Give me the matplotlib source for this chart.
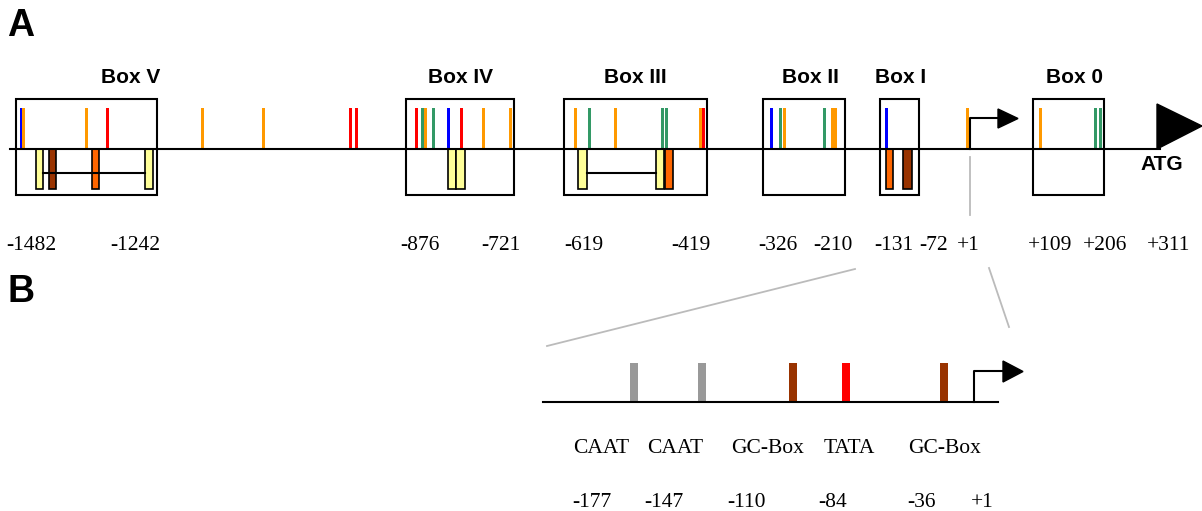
import matplotlib
matplotlib.use("Agg")
import matplotlib.pyplot as plt
from matplotlib.patches import Rectangle, Polygon

# ---------------- data (layout units = diagram coordinates) ----------------
box_names = ['Box V', 'Box IV', 'Box III', 'Box II', 'Box I', 'Box 0']
box_left = [16, 406, 564, 763, 880, 1033]
box_right = [157, 514, 707, 845, 919, 1104]
box_label_x = [131, 460, 635, 810, 901, 1075]

site_x = [21, 23.5, 86, 107, 202, 263, 350, 356,
          416, 422, 425, 433, 448, 461, 483, 510,
          575, 589, 615, 662, 666, 700, 703.5,
          771, 780, 784, 824, 832, 835,
          886, 967, 1040, 1095, 1100]
site_type = ['blue', 'orange', 'orange', 'red', 'orange', 'orange', 'red', 'red',
             'red', 'green', 'orange', 'green', 'blue', 'red', 'orange', 'orange',
             'orange', 'green', 'orange', 'green', 'green', 'orange', 'red',
             'blue', 'green', 'orange', 'green', 'orange', 'orange',
             'blue', 'orange', 'orange', 'green', 'green']

lower_x0 = [36, 49, 92, 145, 448, 456, 578, 656, 665, 886, 903]
lower_x1 = [43, 56, 99, 153, 456, 465, 587, 664, 673, 893, 912]
lower_type = ['yellow', 'brown', 'dorange', 'yellow', 'yellow', 'yellow',
              'yellow', 'yellow', 'dorange', 'dorange', 'brown']
link_x0 = [43, 587]
link_x1 = [145, 656]

pos_labels = ['-1482', '-1242', '-876', '-721', '-619', '-419', '-326', '-210',
              '-131', '-72', '+1', '+109', '+206', '+311']
pos_x = [31, 135, 420, 501, 584, 691, 778, 833, 894, 934, 968, 1050, 1105, 1169]

prom_names = ['CAAT', 'CAAT', 'GC-Box', 'TATA', 'GC-Box']
prom_name_x = [601, 675, 768, 849, 945]
prom_bar_x = [634, 702, 793, 846, 944]
prom_type = ['gray', 'gray', 'brown', 'red', 'brown']
prom_pos = ['-177', '-147', '-110', '-84', '-36', '+1']
prom_pos_x = [592, 664, 746, 833, 921, 982]

colors = {'blue': '#0000FF', 'orange': '#FF9900', 'red': '#FF0000',
          'green': '#339966', 'yellow': '#FFFF99', 'brown': '#993300',
          'dorange': '#FF6600', 'gray': '#999999'}

# ---------------- figure ----------------
fig = plt.figure(figsize=(12.02, 5.11), dpi=100)
ax = fig.add_axes([0, 0, 1, 1])
ax.set_xlim(0, 1202)
ax.set_ylim(511, 0)
ax.axis('off')

SANS = 'Liberation Sans'
SERIF = 'Liberation Serif'
LW = 1.5

# panel letters
ax.text(7, 36, 'A', fontsize=27, fontweight='bold', family=SANS, ha='left', va='baseline')
ax.text(8, 302, 'B', fontsize=27, fontweight='bold', family=SANS, ha='left', va='baseline')

# ---------------- panel A ----------------
line_y = 149
# boxes
for name, l, r, lx in zip(box_names, box_left, box_right, box_label_x):
    ax.add_patch(Rectangle((l, 99), r - l, 96, fill=False, edgecolor='black',
                           linewidth=LW, zorder=2))
    ax.text(lx, 83, name, fontsize=15, fontweight='bold', family=SANS,
            ha='center', va='baseline')

# upper sites
for x, t in zip(site_x, site_type):
    ax.add_patch(Rectangle((x - 1.5, 108), 3, line_y - 108, facecolor=colors[t],
                           edgecolor='none', zorder=3))

# lower rects
for a, b, t in zip(lower_x0, lower_x1, lower_type):
    ax.add_patch(Rectangle((a, line_y), b - a, 189 - line_y, facecolor=colors[t],
                           edgecolor='black', linewidth=1.2, zorder=4))

# lower connecting lines (drawn over the rects)
for a, b in zip(link_x0, link_x1):
    ax.plot([a, b], [173, 173], color='black', lw=LW, zorder=5)

# main line
ax.plot([10, 1160], [line_y, line_y], color='black', lw=LW, zorder=5)

# ATG arrow
ax.add_patch(Polygon([(1157, 104), (1157, 149), (1202, 126)], closed=True,
                     facecolor='black', edgecolor='black', zorder=5))
ax.text(1162, 170, 'ATG', fontsize=15, fontweight='bold', family=SANS,
        ha='center', va='baseline')

# TSS arrow (top)
ax.plot([970, 970, 998], [line_y, 118.5, 118.5], color='black', lw=LW, zorder=5)
ax.add_patch(Polygon([(998, 109), (998, 128), (1018, 118.5)], closed=True,
                     facecolor='black', edgecolor='black', zorder=5))

# position labels
for lab, x in zip(pos_labels, pos_x):
    ax.text(x, 250, lab, fontsize=15.5, family=SERIF, ha='center', va='baseline')

# gray zoom lines
gcol = '#BBBBBB'
ax.plot([970, 970], [157, 215], color=gcol, lw=1.3)
ax.plot([855, 547], [269, 346], color=gcol, lw=1.3)
ax.plot([989, 1009], [268, 327], color=gcol, lw=1.3)

# ---------------- panel B ----------------
base_y = 402
ax.plot([543, 998], [base_y, base_y], color='black', lw=LW, zorder=3)
for x, t in zip(prom_bar_x, prom_type):
    ax.add_patch(Rectangle((x - 4, 363), 8, base_y - 363, facecolor=colors[t],
                           edgecolor='none', zorder=2))
ax.plot([974, 974, 1003], [base_y, 371.5, 371.5], color='black', lw=LW, zorder=3)
ax.add_patch(Polygon([(1003, 361), (1003, 382), (1023, 371.5)], closed=True,
                     facecolor='black', edgecolor='black', zorder=3))

for lab, x in zip(prom_names, prom_name_x):
    ax.text(x, 453, lab, fontsize=15.5, family=SERIF, ha='center', va='baseline')
for lab, x in zip(prom_pos, prom_pos_x):
    ax.text(x, 507, lab, fontsize=15.5, family=SERIF, ha='center', va='baseline')

fig.savefig('out.png', dpi=100)
